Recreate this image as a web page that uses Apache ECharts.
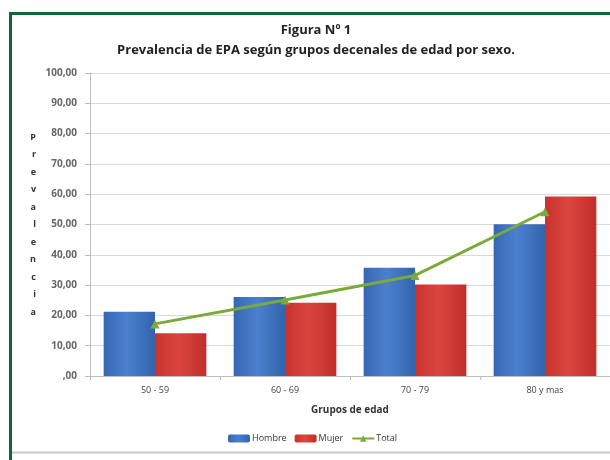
<!DOCTYPE html>
<html>
<head>
<meta charset="utf-8">
<script src="https://cdn.jsdelivr.net/npm/echarts@6/dist/echarts.min.js"></script>
<style>
html,body{margin:0;padding:0;background:#fff;}
#c{width:610px;height:460px;}
</style>
</head>
<body>
<div id="c"></div>
<script>
const categories = ['50 - 59', '60 - 69', '70 - 79', '80 y mas'];
const hombre = [21.2, 26.1, 35.7, 50.1];
const mujer = [14.1, 24.2, 30.2, 59.2];
const total = [17.2, 25.1, 33.2, 54.2];
const seriesNames = ['Hombre', 'Mujer', 'Total'];
const yTickLabels = [',00', '10,00', '20,00', '30,00', '40,00', '50,00', '60,00', '70,00', '80,00', '90,00', '100,00'];
const titleText = 'Figura Nº 1';
const subtitleText = 'Prevalencia de EPA según grupos decenales de edad por sexo.';
const yAxisName = 'Prevalencia';
const xAxisName = 'Grupos de edad';

const chart = echarts.init(document.getElementById('c'), null, {renderer: 'canvas'});
const font = '"Open Sans", Lato, sans-serif';

const blueGrad = new echarts.graphic.LinearGradient(0, 0, 1, 0, [
  {offset: 0, color: '#3767b3'}, {offset: 0.45, color: '#4a80cf'}, {offset: 1, color: '#3363ad'}
]);
const redGrad = new echarts.graphic.LinearGradient(0, 0, 1, 0, [
  {offset: 0, color: '#c8332f'}, {offset: 0.45, color: '#dc453e'}, {offset: 1, color: '#bf2f2b'}
]);

chart.setOption({
  backgroundColor: '#ffffff',
  animation: false,
  textStyle: {fontFamily: font},
  title: [
    {text: titleText, left: 316, textAlign: 'center', top: 24, padding: 0,
     textStyle: {fontSize: 13, fontWeight: 'bold', color: '#222', fontFamily: font}},
    {text: subtitleText, left: 316, textAlign: 'center', top: 44, padding: 0,
     textStyle: {fontSize: 13, fontWeight: 'bold', color: '#222', fontFamily: font}}
  ],
  graphic: [
    {type: 'line', shape: {x1: 9, y1: 13.5, x2: 610, y2: 13.5}, style: {stroke: '#0b6a34', lineWidth: 3}, silent: true},
    {type: 'line', shape: {x1: 10.5, y1: 12, x2: 10.5, y2: 460}, style: {stroke: '#0b6a34', lineWidth: 3}, silent: true},
    {type: 'line', shape: {x1: 12, y1: 452.5, x2: 610, y2: 452.5}, style: {stroke: '#c8c8c8', lineWidth: 2}, silent: true}
  ],
  legend: {
    data: seriesNames,
    left: 228, top: 434, padding: 0,
    itemWidth: 22, itemHeight: 8, itemGap: 8,
    textStyle: {fontSize: 9, color: '#333', fontFamily: font, padding: [0, 0, 0, -3]}
  },
  grid: {left: 90, right: -2, top: 73, bottom: 84, containLabel: false},
  xAxis: {
    type: 'category',
    data: categories,
    name: xAxisName,
    nameLocation: 'middle',
    nameGap: 29,
    nameTextStyle: {fontSize: 10, fontWeight: 'bold', color: '#333', fontFamily: font},
    axisLine: {lineStyle: {color: '#bdbdbd'}},
    axisTick: {show: true, length: 4, lineStyle: {color: '#bdbdbd'}},
    axisLabel: {fontSize: 9, color: '#444', margin: 10, fontFamily: font}
  },
  yAxis: {
    type: 'value',
    min: 0, max: 100, interval: 10,
    name: yAxisName.split('').join('\n'),
    nameLocation: 'middle',
    nameRotate: 0,
    nameGap: 54,
    nameTextStyle: {fontSize: 9, fontWeight: 'bold', color: '#333', lineHeight: 17.5, fontFamily: font},
    axisLine: {show: true, lineStyle: {color: '#bdbdbd'}},
    axisTick: {show: true, length: 5, lineStyle: {color: '#bdbdbd'}},
    axisLabel: {
      fontSize: 10, fontWeight: 'bold', color: '#666', margin: 13, fontFamily: font,
      formatter: function (v) { return yTickLabels[Math.round(v / 10)]; }
    },
    splitLine: {lineStyle: {color: '#d9d9d9', width: 1}}
  },
  series: [
    {name: seriesNames[0], type: 'bar', data: hombre, barGap: '0%', barCategoryGap: '21%',
     itemStyle: {color: blueGrad}},
    {name: seriesNames[1], type: 'bar', data: mujer, barGap: '0%', barCategoryGap: '21%',
     itemStyle: {color: redGrad}},
    {name: seriesNames[2], type: 'line', data: total, z: 5,
     symbol: 'triangle', symbolSize: 9,
     lineStyle: {color: '#7aab3a', width: 3},
     itemStyle: {color: '#7aab3a'}}
  ]
});
</script>
</body>
</html>
